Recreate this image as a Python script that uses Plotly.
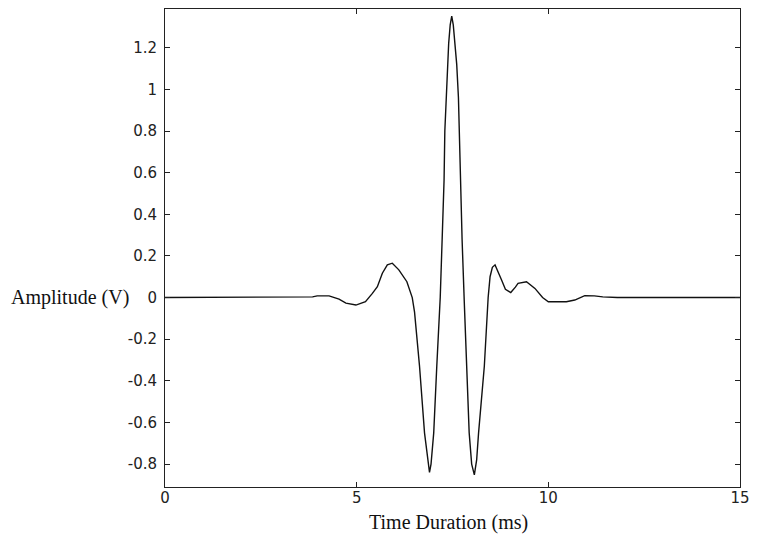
import plotly.graph_objects as go

# waveform (time in ms, amplitude in V)
time_ms = [0, 3.5, 3.85, 3.97, 4.28, 4.54, 4.72, 4.98, 5.10, 5.23, 5.41, 5.54,
           5.67, 5.80, 5.93, 6.10, 6.31, 6.40, 6.45, 6.51, 6.64, 6.77, 6.84,
           6.90, 6.94, 7.01, 7.09, 7.18, 7.23, 7.28, 7.30, 7.35, 7.40, 7.44,
           7.48, 7.52, 7.57, 7.61, 7.655, 7.68, 7.70, 7.75, 7.805, 7.865,
           7.935, 8.00, 8.07, 8.13, 8.18, 8.33, 8.39, 8.43, 8.48, 8.54, 8.61,
           8.68, 8.78, 8.88, 9.02, 9.14, 9.21, 9.43, 9.65, 9.85, 10.0, 10.47,
           10.69, 10.95, 11.2, 11.42, 11.8, 15]
amplitude = [0, 0, 0.003, 0.008, 0.008, -0.008, -0.027, -0.036, -0.030, -0.020,
             0.020, 0.052, 0.117, 0.157, 0.165, 0.133, 0.076, 0.020, 0.0,
             -0.07, -0.33, -0.65, -0.77, -0.84, -0.80, -0.65, -0.33, 0.0,
             0.28, 0.565, 0.80, 1.06, 1.22, 1.31, 1.352, 1.31, 1.20, 1.12,
             0.96, 0.77, 0.565, 0.28, -0.01, -0.33, -0.65, -0.80, -0.852,
             -0.78, -0.65, -0.33, -0.108, 0.0, 0.10, 0.145, 0.157, 0.13, 0.084,
             0.04, 0.024, 0.05, 0.068, 0.076, 0.044, 0.0, -0.02, -0.02, -0.012,
             0.009, 0.008, 0.003, 0.0, 0]

x_ticks = [0, 5, 10, 15]
y_ticks = [1.2, 1, 0.8, 0.6, 0.4, 0.2, 0, -0.2, -0.4, -0.6, -0.8]
y_tick_text = ["1.2", "1", "0.8", "0.6", "0.4", "0.2", "0",
               "-0.2", "-0.4", "-0.6", "-0.8"]

tick_font = dict(family="DejaVu Sans, Arial, sans-serif", size=15, color="#222")
label_font = dict(family="Liberation Serif, Times New Roman, serif", size=20, color="#111")

fig = go.Figure()
fig.add_trace(go.Scatter(x=time_ms, y=amplitude, mode="lines",
                         line=dict(color="#111", width=1.4), showlegend=False,
                         hoverinfo="skip"))

axis_common = dict(showline=True, linecolor="#222", linewidth=1, mirror="allticks",
                   ticks="inside", ticklen=5, tickcolor="#222", showgrid=False,
                   zeroline=False, tickfont=tick_font, ticklabeloverflow="allow")

fig.update_xaxes(range=[0, 15], tickvals=x_ticks, ticklabelstandoff=-3, **axis_common)
fig.update_yaxes(range=[-0.91, 1.386], tickvals=y_ticks, ticktext=y_tick_text,
                 ticklabelstandoff=4, **axis_common)

# y title sits flat to the left of the axis, like the original
fig.add_annotation(text="Amplitude (V)", xref="paper", yref="y", x=-0.272, y=0,
                   xanchor="left", yanchor="middle", showarrow=False, font=label_font)
fig.add_annotation(text="Time Duration (ms)", xref="x", yref="paper", x=7.4, y=-0.075,
                   xanchor="center", yanchor="middle", showarrow=False, font=label_font)

# page body keeps an 8px margin, so the figure is a bit smaller than the window
fig.update_layout(width=749, height=530, plot_bgcolor="white", paper_bgcolor="white",
                  margin=dict(l=157, r=17, t=1, b=51))

fig.write_html("out.html")
